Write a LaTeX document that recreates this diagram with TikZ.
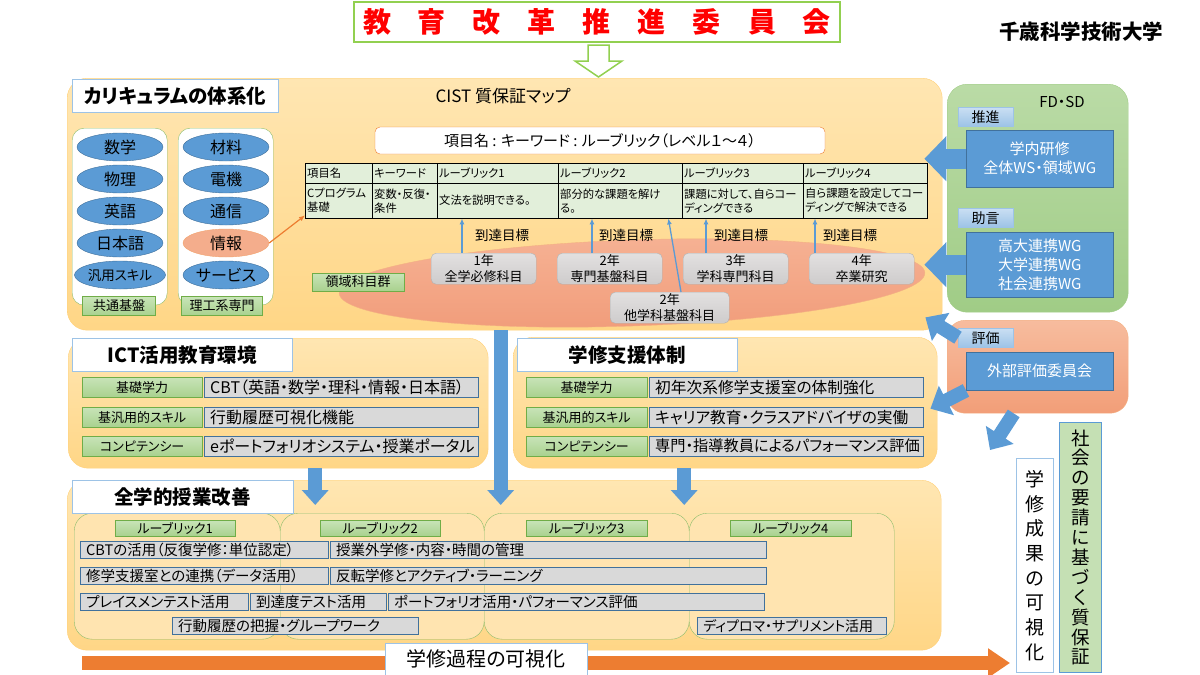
\documentclass[tikz,border=0pt]{standalone}
\usepackage{fontspec}
\setmainfont{Noto Sans CJK JP}[RawFeature=+palt]
\usetikzlibrary{shapes.geometric,arrows.meta,positioning}

\definecolor{areaorange}{RGB}{255,214,134}
\definecolor{areaorangetop}{RGB}{255,230,178}
\definecolor{areaedge}{RGB}{255,208,120}
\definecolor{msblue}{RGB}{91,155,213}
\definecolor{msblueline}{RGB}{65,113,156}
\definecolor{titleline}{RGB}{157,195,230}
\definecolor{msgreen}{RGB}{169,209,142}
\definecolor{msgreentop}{RGB}{200,228,184}
\definecolor{msgreenline}{RGB}{112,173,71}
\definecolor{fdgreen}{RGB}{160,204,134}
\definecolor{fdgreentop}{RGB}{186,219,166}
\definecolor{salmon}{RGB}{242,158,120}
\definecolor{salmontop}{RGB}{247,188,158}
\definecolor{ellipsetop}{RGB}{246,178,148}
\definecolor{ellipsebottom}{RGB}{241,156,122}
\definecolor{salmonline}{RGB}{244,177,131}
\definecolor{msorange}{RGB}{237,125,49}
\definecolor{barfill}{RGB}{217,217,217}
\definecolor{yearfill}{RGB}{206,204,204}
\definecolor{yearfilltop}{RGB}{226,224,224}
\definecolor{labelblue}{RGB}{157,195,230}
\definecolor{labelbluetop}{RGB}{202,223,243}
\definecolor{tablegreen}{RGB}{226,239,218}
\definecolor{subboxfill}{RGB}{255,228,176}
\definecolor{hollowgreen}{RGB}{146,208,80}
\definecolor{socialgreen}{RGB}{197,224,180}

\tikzset{
  fs/.style 2 args={font=\fontsize{#1pt}{#2pt}\selectfont},
  area/.style={rounded corners=20pt, top color=areaorangetop, bottom color=areaorange, draw=areaedge, anchor=north west},
  areatitle/.style={draw=titleline, fill=white, anchor=north west, inner sep=0pt, minimum width=220pt, minimum height=33pt, font=\bfseries\fontsize{19.5pt}{22pt}\selectfont},
  column/.style={draw=msgreenline!80, fill=white, rounded corners=12pt, anchor=north west, minimum width=95pt, minimum height=177pt},
  subject/.style={ellipse, draw=msblueline, fill=msblue, minimum width=86pt, minimum height=28pt, inner sep=0pt, fs={16}{18}},
  greenlabel/.style={draw=msgreenline, top color=msgreentop, bottom color=msgreen, inner sep=0pt, fs={13}{15}},
  bluelabel/.style={draw=labelblue, top color=labelbluetop, bottom color=labelblue, inner sep=0pt, minimum width=55pt, minimum height=19pt, anchor=north west, fs={14}{16}},
  bluebox/.style={draw=msblueline, fill=msblue, text=white, inner sep=0pt, minimum width=147pt, anchor=north west, align=center, fs={15}{19}},
  graybar/.style={draw=msblueline, fill=barfill, inner xsep=6pt, inner ysep=0pt, anchor=north west, align=left},
  cell/.style={draw=black, fill=tablegreen, anchor=north west, inner xsep=2pt, inner ysep=0pt, align=left, fs={11.3}{14}},
  yearbox/.style={draw=gray!60, top color=yearfilltop, bottom color=yearfill, rounded corners=5pt, anchor=north west, align=center, inner sep=0pt, minimum height=31pt, fs={13}{15.5}},
  subbox/.style={draw=msgreenline!80, fill=subboxfill, rounded corners=18pt, anchor=north west, minimum height=126pt},
  goal/.style={draw=msblue, line width=1.3pt, -{Latex[length=6pt,width=5pt]}},
  fdarrow/.style={draw=msblue, line width=20pt, -{Triangle[length=22pt,width=44pt]}},
  evalarrow/.style={draw=msblue, line width=14pt, -{Triangle[length=18pt,width=32pt]}},
  downarrow/.style={draw=msblue, line width=14pt, -{Triangle[length=15pt,width=26pt]}},
  flowarrow/.style={draw=msorange, line width=14pt, -{Triangle[length=22pt,width=28pt]}},
}

\begin{document}
\begin{tikzpicture}[x=1pt,y=-1pt]
\useasboundingbox (0,0) rectangle (1200,675);

% committee and university
\node[draw=hollowgreen, line width=1.5pt, minimum width=486pt, minimum height=40pt, inner sep=0pt, text=red, font=\bfseries\fontsize{28pt}{30pt}\selectfont] (kaikaku) at (597,22) {教\hspace{27pt}育\hspace{27pt}改\hspace{27pt}革\hspace{27pt}推\hspace{27pt}進\hspace{27pt}委\hspace{27pt}員\hspace{27pt}会};
\node[anchor=east, font=\bfseries\fontsize{20.5pt}{22pt}\selectfont] (univ) at (1167,32) {千歳科学技術大学};
\draw[draw=hollowgreen, fill=white, line width=1.5pt] (588,45) -- (609,45) -- (609,61) -- (622,61) -- (598.5,77) -- (575,61) -- (588,61) -- cycle;

% curriculum map
\node[area, minimum width=875pt, minimum height=252pt] (curr) at (67,78) {};
\node[areatitle, minimum width=206pt] (currtitle) at (72,79) {カリキュラムの体系化};
\node[fs={17}{20}] (cistmap) at (503,96) {CIST 質保証マップ};

\node[column] (kibancol) at (72,128) {};
\node[column] (senmoncol) at (178,128) {};
\node[subject] (sugaku) at (120,147) {数学};
\node[subject] (butsuri) at (120,179) {物理};
\node[subject] (eigo) at (120,211) {英語};
\node[subject] (nihongo) at (120,243) {日本語};
\node[subject, fs={13.5}{15}] (hanyo) at (120,275) {汎用スキル};
\node[subject] (zairyo) at (226,147) {材料};
\node[subject] (denki) at (226,179) {電機};
\node[subject] (tsushin) at (226,211) {通信};
\node[subject, draw=msorange!70, fill=salmon!85!white] (joho) at (226,243) {情報};
\node[subject] (service) at (226,275) {サービス};
\node[greenlabel, minimum width=73pt, minimum height=19pt] (kyotsu) at (119,306) {共通基盤};
\node[greenlabel, minimum width=81pt, minimum height=19pt] (rikou) at (222,306) {理工系専門};

\node[draw=msorange, fill=white, rounded corners=5pt, minimum width=450pt, minimum height=27pt, fs={15}{17}] (keyline) at (600,140.5) {項目名 : キーワード : ルーブリック（レベル１～４）};

% rubric table
\node[cell, text width=63pt, minimum height=20pt] (h1) at (305,163) {項目名};
\node[cell, text width=61pt, minimum height=20pt] (h2) at (372,163) {キーワード};
\node[cell, text width=117pt, minimum height=20pt] (h3) at (437,163) {ルーブリック1};
\node[cell, text width=120pt, minimum height=20pt] (h4) at (558,163) {ルーブリック2};
\node[cell, text width=117pt, minimum height=20pt] (h5) at (682,163) {ルーブリック3};
\node[cell, text width=120pt, minimum height=20pt] (h6) at (803,163) {ルーブリック4};
\node[cell, text width=63pt, minimum height=35pt] (c1) at (305,183) {Cプログラム\\基礎};
\node[cell, text width=61pt, minimum height=35pt] (c2) at (372,183) {変数・反復・\\条件};
\node[cell, text width=117pt, minimum height=35pt] (c3) at (437,183) {文法を説明できる。};
\node[cell, text width=120pt, minimum height=35pt] (c4) at (558,183) {部分的な課題を解け\\る。};
\node[cell, text width=117pt, minimum height=35pt] (c5) at (682,183) {課題に対して、自らコー\\ディングできる};
\node[cell, text width=120pt, minimum height=35pt] (c6) at (803,183) {自ら課題を設定してコー\\ディングで解決できる};
\draw[draw=msorange, line width=1.2pt, -{Latex[length=6pt,width=5pt]}] (joho.east) -- ([yshift=3pt]c1.south west);

% course groups
\node[ellipse, top color=ellipsetop, bottom color=ellipsebottom, draw=salmonline, minimum width=586pt, minimum height=86pt, rotate=2] (ryoiki) at (632,283) {};
\node[greenlabel, minimum width=92pt, minimum height=18pt] (ryoikilabel) at (358,282) {領域科目群};
\node[yearbox, minimum width=105pt] (nen1) at (431,253) {1年\\全学必修科目};
\node[yearbox, minimum width=105pt] (nen2) at (557,253) {2年\\専門基盤科目};
\node[yearbox, minimum width=105pt] (nen3) at (683,253) {3年\\学科専門科目};
\node[yearbox, minimum width=105pt] (nen4) at (809,253) {4年\\卒業研究};
\node[yearbox, minimum width=119pt] (tagaku) at (610,292) {2年\\他学科基盤科目};
\draw[goal] ([xshift=31pt]nen1.north west) -- ([xshift=31pt]nen1.north west |- c3.south);
\draw[goal] ([xshift=35pt]nen2.north west) -- ([xshift=35pt]nen2.north west |- c4.south);
\draw[goal] ([xshift=23pt]nen3.north west) -- ([xshift=23pt]nen3.north west |- c5.south);
\draw[goal] ([xshift=6pt]nen4.north west) -- ([xshift=6pt]nen4.north west |- c6.south);
\draw[goal] ([xshift=71pt]tagaku.north west) -- ([xshift=-14pt]c4.south east);
\node[fs={13.5}{15}] (goal1) at (502,235) {到達目標};
\node[fs={13.5}{15}] (goal2) at (626,235) {到達目標};
\node[fs={13.5}{15}] (goal3) at (741,235) {到達目標};
\node[fs={13.5}{15}] (goal4) at (850,235) {到達目標};

% FD SD and evaluation
\node[rounded corners=20pt, top color=fdgreentop, bottom color=fdgreen, draw=fdgreen, minimum width=181pt, minimum height=228pt, anchor=north west] (fdsd) at (947,84) {};
\node[fs={15}{17}] (fdsdtitle) at (1062,102) {FD・SD};
\node[bluelabel] (suishin) at (958,107) {推進};
\node[bluebox, minimum height=57pt] (kenshu) at (966,130) {学内研修\\全体WS・領域WG};
\node[bluelabel] (jogen) at (958,208) {助言};
\node[bluebox, minimum height=65pt] (renkei) at (966,232) {高大連携WG\\大学連携WG\\社会連携WG};
\node[rounded corners=18pt, top color=salmontop, bottom color=salmon, draw=salmonline, minimum width=181pt, minimum height=93pt, anchor=north west] (hyokabox) at (947,320) {};
\node[bluelabel] (hyoka) at (958,328) {評価};
\node[bluebox, minimum height=38pt] (gaibu) at (966,352) {外部評価委員会};
\draw[fdarrow] (kenshu.west) -- ([xshift=-18pt]kenshu.west -| curr.east);
\draw[fdarrow] (renkei.west) -- ([xshift=-18pt]renkei.west -| curr.east);
\draw[evalarrow] (hyoka.west) -- ([xshift=-17pt,yshift=13pt]curr.south east);

% ICT environment
\node[area, minimum width=420pt, minimum height=130pt] (ict) at (68,338) {};
\node[areatitle] (icttitle) at (72,338) {ICT活用教育環境};
\node[greenlabel, minimum width=120pt, minimum height=20pt, anchor=north west] (ictkiso) at (82,377) {基礎学力};
\node[greenlabel, minimum width=120pt, minimum height=20pt, anchor=north west] (icthanyo) at (82,407) {基汎用的スキル};
\node[greenlabel, minimum width=120pt, minimum height=20pt, anchor=north west] (ictcomp) at (82,436) {コンピテンシー};
\node[graybar, text width=262pt, minimum height=20pt, fs={16}{18}] (cbt) at (204,377) {CBT（英語・数学・理科・情報・日本語）};
\node[graybar, text width=262pt, minimum height=20pt, fs={16}{18}] (rireki) at (204,407) {行動履歴可視化機能};
\node[graybar, text width=262pt, minimum height=20pt, fs={16}{18}] (eport) at (204,436) {eポートフォリオシステム・授業ポータル};

% learning support
\node[area, minimum width=424pt, minimum height=131pt] (shien) at (513,337) {};
\node[areatitle] (shientitle) at (517,338) {学修支援体制};
\node[greenlabel, minimum width=121pt, minimum height=20pt, anchor=north west] (shienkiso) at (526,377) {基礎学力};
\node[greenlabel, minimum width=121pt, minimum height=20pt, anchor=north west] (shienhanyo) at (526,407) {基汎用的スキル};
\node[greenlabel, minimum width=121pt, minimum height=20pt, anchor=north west] (shiencomp) at (526,436) {コンピテンシー};
\node[graybar, text width=262pt, minimum height=20pt, fs={15.7}{18}] (shoensha) at (649,377) {初年次系修学支援室の体制強化};
\node[graybar, text width=262pt, minimum height=20pt, fs={15.7}{18}] (career) at (649,407) {キャリア教育・クラスアドバイザの実働};
\node[graybar, text width=262pt, minimum height=20pt, fs={15.2}{18}] (perf) at (649,436) {専門・指導教員によるパフォーマンス評価};
\draw[evalarrow] (gaibu.south west) -- ([xshift=-7pt,yshift=-6pt]shien.east);

% class improvement
\node[area, minimum width=874pt, minimum height=170pt] (kaizen) at (67,480) {};
\node[subbox, minimum width=206pt] (rub1box) at (74,513) {};
\node[subbox, minimum width=204pt] (rub2box) at (280,513) {};
\node[subbox, minimum width=205pt] (rub3box) at (484,513) {};
\node[subbox, minimum width=205pt] (rub4box) at (689,513) {};
\node[areatitle, minimum width=221pt] (kaizentitle) at (72,480) {全学的授業改善};
\node[greenlabel, minimum width=120pt, minimum height=16pt, anchor=north west] (rub1) at (115,520) {ルーブリック1};
\node[greenlabel, minimum width=120pt, minimum height=16pt, anchor=north west] (rub2) at (320,520) {ルーブリック2};
\node[greenlabel, minimum width=121pt, minimum height=16pt, anchor=north west] (rub3) at (526,520) {ルーブリック3};
\node[greenlabel, minimum width=121pt, minimum height=16pt, anchor=north west] (rub4) at (730,520) {ルーブリック4};
\node[graybar, text width=236pt, minimum height=17pt, fs={14.5}{16}] (cbtkatsuyo) at (80,541) {CBTの活用（反復学修：単位認定）};
\node[graybar, text width=424pt, minimum height=17pt, fs={14.5}{16}] (jikan) at (330,541) {授業外学修・内容・時間の管理};
\node[graybar, text width=236pt, minimum height=17pt, fs={14.5}{16}] (shugaku) at (80,567) {修学支援室との連携（データ活用）};
\node[graybar, text width=424pt, minimum height=17pt, fs={14.5}{16}] (hanten) at (330,567) {反転学修とアクティブ・ラーニング};
\node[graybar, text width=156pt, minimum height=17pt, fs={14.5}{16}] (placement) at (80,593) {プレイスメンテスト活用};
\node[graybar, text width=124pt, minimum height=17pt, fs={14.5}{16}] (totatsudo) at (250,593) {到達度テスト活用};
\node[graybar, text width=364pt, minimum height=17pt, fs={14.5}{16}] (portfolio) at (388,593) {ポートフォリオ活用・パフォーマンス評価};
\node[graybar, text width=234pt, minimum height=17pt, fs={14.5}{16}] (haaku) at (172,617) {行動履歴の把握・グループワーク};
\node[graybar, text width=177pt, minimum height=17pt, fs={14}{16}] (diploma) at (697,617) {ディプロマ・サプリメント活用};

% flows between blocks
\draw[downarrow] ([xshift=-4pt]curr.south) -- ([xshift=-4pt,yshift=-25pt]curr.south |- kaizen.north);
\draw[downarrow] ([xshift=37pt]ict.south) -- ([xshift=37pt,yshift=-25pt]ict.south |- kaizen.north);
\draw[downarrow] ([xshift=-41pt]shien.south) -- ([xshift=-41pt,yshift=-25pt]shien.south |- kaizen.north);

% outcomes
\coordinate (flowstart) at (82,663);
\coordinate (flowend) at (1010,663);
\draw[flowarrow] (flowstart) -- (flowend);
\node[draw=titleline, fill=white, minimum width=202pt, minimum height=32pt, anchor=north west, fs={20}{22}] (katei) at (385,643) {学修過程の可視化};
\node[draw=titleline, fill=white, line width=1pt, minimum width=37pt, minimum height=214pt, anchor=north west, inner sep=0pt, align=center, fs={19}{24.7}] (seika) at (1016,458) {学\\修\\成\\果\\の\\可\\視\\化};
\node[draw=msblue, fill=socialgreen, line width=1pt, minimum width=42pt, minimum height=250pt, anchor=north west, inner sep=0pt, align=center, fs={18.5}{19.9}] (shakai) at (1059,422) {社\\会\\の\\要\\請\\に\\基\\づ\\く\\質\\保\\証};
\draw[evalarrow] ([xshift=-24pt]hyokabox.south) -- ([xshift=-26pt,yshift=8pt]seika.north west);
\end{tikzpicture}
\end{document}
